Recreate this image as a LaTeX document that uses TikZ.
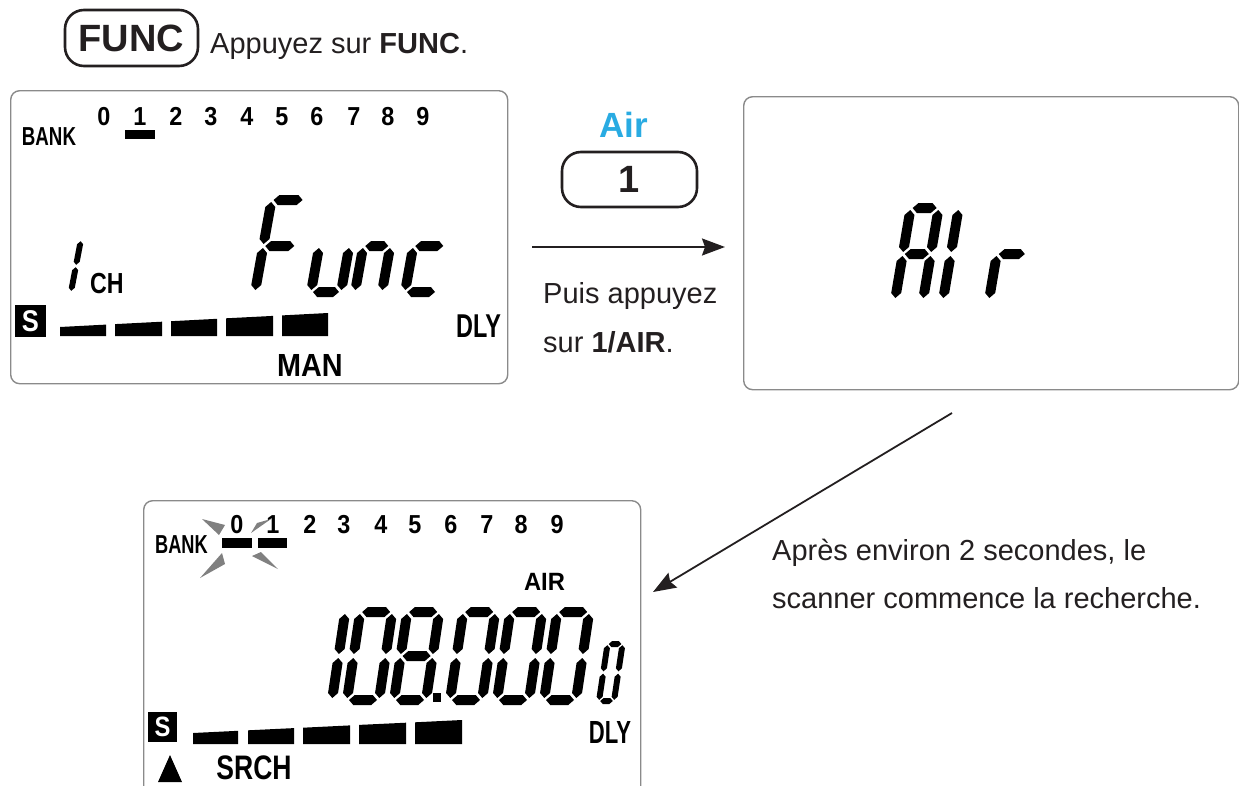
\documentclass[tikz,border=0pt]{standalone}
\usepackage{fontspec}
\usepackage{graphicx}
\setmainfont{Liberation Sans}
\usetikzlibrary{arrows.meta}

\definecolor{inkdark}{HTML}{231F20}
\definecolor{lcdedge}{HTML}{8A8A8A}
\definecolor{airblue}{HTML}{29ABE2}
\definecolor{flashgray}{HTML}{808080}

\newcommand\fsz[1]{\fontsize{#1}{#1}\selectfont}
\newcommand\cnd[2]{\scalebox{#1}[1]{#2}}

% one horizontal / vertical LCD segment (hexagon), in cell coordinates
\newcommand\lcdH[3]{\fill (#2,#1) -- ({#2+\lcT/2},{#1+\lcT/2}) -- ({#3-\lcT/2},{#1+\lcT/2}) -- (#3,#1) -- ({#3-\lcT/2},{#1-\lcT/2}) -- ({#2+\lcT/2},{#1-\lcT/2}) -- cycle;}
\newcommand\lcdV[3]{\fill (#1,#2) -- ({#1+\lcT/2},{#2+\lcT/2}) -- ({#1+\lcT/2},{#3-\lcT/2}) -- (#1,#3) -- ({#1-\lcT/2},{#3-\lcT/2}) -- ({#1-\lcT/2},{#2+\lcT/2}) -- cycle;}
\newcommand\lcdsa{\lcdH{\lcH}{\lcG}{\lcW-\lcG}}
\newcommand\lcdsb{\lcdV{\lcW}{\lcM+\lcG}{\lcH-\lcG}}
\newcommand\lcdsc{\lcdV{\lcW}{\lcG}{\lcM-\lcG}}
\newcommand\lcdsd{\lcdH{0}{\lcG}{\lcW-\lcG}}
\newcommand\lcdse{\lcdV{0}{\lcG}{\lcM-\lcG}}
\newcommand\lcdsf{\lcdV{0}{\lcM+\lcG}{\lcH-\lcG}}
\newcommand\lcdsg{\lcdH{\lcM}{\lcG}{\lcW-\lcG}}
% seven-segment cell: x0, baseline y, width, height, slant, thickness, segments
\newcommand\lcdcell[7]{%
  \begin{scope}[shift={(#1,#2)},x={(1pt,0pt)},y={(#5pt,1pt)}]
    \def\lcW{#3}\def\lcH{#4}\def\lcT{#6}%
    \pgfmathsetmacro\lcM{#4/2}\pgfmathsetmacro\lcG{0.2*#6}%
    \foreach \sg in {#7}{\csname lcds\sg\endcsname}
  \end{scope}}

\tikzset{
  txt/.style={anchor=base west, inner sep=0pt, text=inkdark, font=\fsz{29}},
  keybox/.style={draw=inkdark, line width=2.6pt, rounded corners=19pt, inner sep=0pt, text=inkdark, font=\bfseries\fsz{38}},
  lcd/.style={draw=lcdedge, line width=1.4pt, rounded corners=9pt, inner sep=0pt, anchor=north west},
  lbl/.style={anchor=base, inner sep=0pt, font=\bfseries, text=black},
  sbox/.style={fill=black, text=white, inner sep=0pt, font=\bfseries},
  conn/.style={draw=inkdark, line width=1.8pt, -{Stealth[length=23pt,width=17pt,inset=3pt]}},
}

\begin{document}
\begin{tikzpicture}[x=1pt,y=-1pt]
\useasboundingbox (0,0) rectangle (1239,785);

% ---- step 1: FUNC key
\node[keybox, minimum width=133pt, minimum height=56pt] (funckey) at (131.5,38) {FUNC};
\node[txt] (step1) at (210,53) {Appuyez sur \textbf{FUNC}.};

% ---- display frames
\node[lcd, minimum width=497pt, minimum height=293pt] (lcdA) at (10,90) {};
\node[lcd, minimum width=495pt, minimum height=293pt] (lcdB) at (743,96) {};
\node[lcd, minimum width=497pt, minimum height=330pt] (lcdC) at (143,500) {};

% ---- display A: Func
\node[lbl] (bankA) at (49,145) {\fsz{26}\cnd{.72}{BANK}};
\foreach \dg/\xx in {0/104,1/140,2/176,3/211,4/247,5/282,6/317,7/354,8/388,9/423}
  \node[lbl] (bA\dg) at (\xx,125) {\fsz{26}\cnd{.9}{\dg}};
\fill (125,130) rectangle (155,139);
\lcdcell{51}{292}{20}{52}{0.19}{6}{b,c}
\node[lbl, anchor=base west] (chA) at (90,293) {\fsz{29}\cnd{.8}{CH}};
\lcdcell{255}{292}{33}{92}{0.18}{10}{a,e,f,g}
\lcdcell{311}{292}{30}{92}{0.18}{10}{c,d,e}
\lcdcell{355}{292}{27}{92}{0.18}{10}{c,e,g}
\lcdcell{405}{292}{32}{92}{0.18}{10}{d,e,g}
\node[sbox, minimum width=31pt, minimum height=32pt] (sA) at (30.5,321) {\fsz{30}\cnd{.85}{S}};
\fill (60,336) -- (106,336) -- (106,324.6) -- (60,327) -- cycle;
\fill (115,336) -- (162,336) -- (162,321.7) -- (115,324.1) -- cycle;
\fill (171,336) -- (217,336) -- (217,318.8) -- (171,321.2) -- cycle;
\fill (226,336) -- (273,336) -- (273,315.9) -- (226,318.3) -- cycle;
\fill (282,336) -- (328,336) -- (328,313) -- (282,315.4) -- cycle;
\node[lbl] (dlyA) at (478.5,337) {\fsz{33}\cnd{.71}{DLY}};
\node[lbl] (manA) at (310,376) {\fsz{32}\cnd{.9}{MAN}};

% ---- key 1 / Air and first arrow
\node[anchor=base, inner sep=0pt, font=\bfseries\fsz{35}, text=airblue] (airlbl) at (624,137) {Air};
\node[keybox, minimum width=135pt, minimum height=55pt] (onekey) at (629.5,179.5) {1};
\coordinate (hs) at (532,247);
\coordinate (he) at (725,247);
\draw[conn] (hs) -- (he);
\node[txt] (step2a) at (543,303) {Puis appuyez};
\node[txt] (step2b) at (543,352) {sur \textbf{1/AIR}.};

% ---- display B: Air
\lcdcell{895}{300}{28}{92}{0.17}{10}{a,b,c,e,f,g}
\lcdcell{915}{300}{28}{92}{0.17}{10}{b,c}
\lcdcell{989}{300}{30}{92}{0.17}{10}{e,g}

% ---- second arrow and note
\coordinate (ds) at (952,413);
\coordinate (de) at (653,592);
\draw[conn] (ds) -- (de);
\node[txt] (step3a) at (772,560) {Après environ 2 secondes, le};
\node[txt] (step3b) at (772,608) {scanner commence la recherche.};

% ---- display C: search at 108.0000
\node[lbl] (bankC) at (181.5,553) {\fsz{26}\cnd{.7}{BANK}};
\foreach \dg/\xx in {0/237,1/273,2/310,3/344,4/381,5/415,6/451,7/487,8/521,9/557}
  \node[lbl] (bC\dg) at (\xx,533) {\fsz{26}\cnd{.9}{\dg}};
\fill (222,538) rectangle (252,548);
\fill (258,538) rectangle (287,548);
% blinking rays around the bank marks
\fill[flashgray] (202,519) -- (225,525) -- (219,535) -- cycle;
\fill[flashgray] (200,578) -- (222,553) -- (225,564) -- cycle;
\fill[flashgray] (271,519) -- (251,533) -- (257,523) -- cycle;
\fill[flashgray] (278,569) -- (252,556) -- (261,552) -- cycle;
\node[lbl] (airC) at (544.5,590) {\fsz{25}\cnd{.95}{AIR}};
\lcdcell{300}{700}{32}{88}{0.15}{10}{b,c}
\lcdcell{347}{700}{32}{88}{0.15}{10}{a,b,c,d,e,f}
\lcdcell{394}{700}{32}{88}{0.15}{10}{a,b,c,d,e,f,g}
\fill (433,693) rectangle (441,702);
\lcdcell{450}{700}{32}{88}{0.15}{10}{a,b,c,d,e,f}
\lcdcell{497}{700}{32}{88}{0.15}{10}{a,b,c,d,e,f}
\lcdcell{544}{700}{32}{88}{0.15}{10}{a,b,c,d,e,f}
\lcdcell{599}{701}{15}{57}{0.15}{6}{a,b,c,d,e,f}
\node[sbox, minimum width=29pt, minimum height=30pt] (sC) at (162.5,727) {\fsz{28}\cnd{.85}{S}};
\fill (193,744) -- (238,744) -- (238,730.8) -- (193,733) -- cycle;
\fill (248,744) -- (294,744) -- (294,728.1) -- (248,730.3) -- cycle;
\fill (303,744) -- (350,744) -- (350,725.4) -- (303,727.7) -- cycle;
\fill (359,744) -- (406,744) -- (406,722.7) -- (359,724.9) -- cycle;
\fill (415,744) -- (462,744) -- (462,720) -- (415,722.3) -- cycle;
\node[lbl] (dlyC) at (610,743) {\fsz{32}\cnd{.69}{DLY}};
\fill (158,782) -- (182,782) -- (170,755) -- cycle;
\node[lbl] (srchC) at (254,779) {\fsz{34}\cnd{.78}{SRCH}};
\end{tikzpicture}
\end{document}
